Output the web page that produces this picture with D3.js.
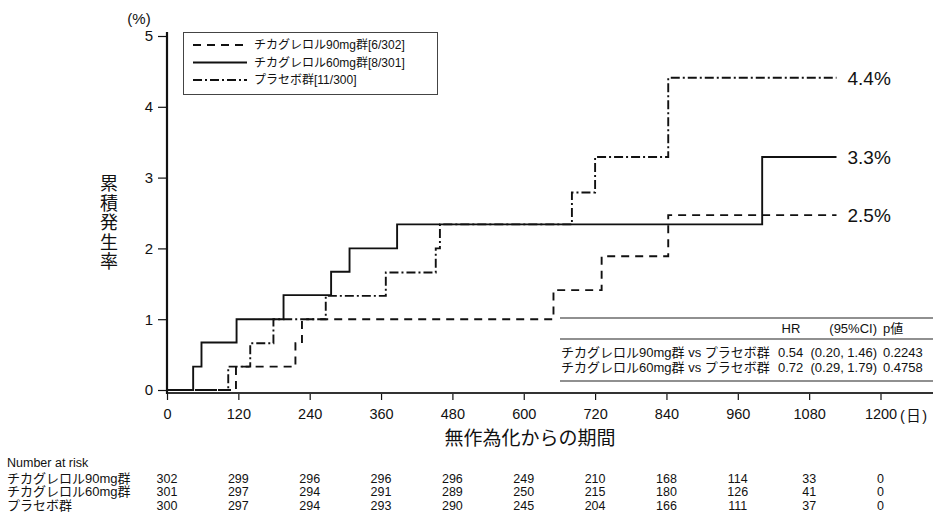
<!DOCTYPE html>
<html>
<head>
<meta charset="utf-8">
<script src="https://cdn.jsdelivr.net/npm/d3@7"></script>
<style>
  body { margin: 0; background: #fff; }
  text { font-family: "Liberation Sans", "Noto Sans CJK JP", sans-serif; fill: #111; }
</style>
</head>
<body>
<script>
// data
const groups = ["チカグレロル90mg群", "チカグレロル60mg群", "プラセボ群"];
const legendLabels = ["チカグレロル90mg群[6/302]", "チカグレロル60mg群[8/301]", "プラセボ群[11/300]"];

const days90 = [0, 116, 216, 227, 650, 731, 843, 1126];
const vals90 = [0, 0.33, 0.66, 1.0, 1.41, 1.89, 2.47, 2.47];

const days60 = [0, 44, 58, 117, 196, 276, 307, 387, 1001, 1126];
const vals60 = [0, 0.33, 0.67, 1.0, 1.34, 1.67, 2.0, 2.34, 3.29, 3.29];

const daysPbo = [0, 103, 140, 179, 267, 368, 452, 459, 681, 720, 843, 1126];
const valsPbo = [0, 0.33, 0.66, 1.0, 1.33, 1.66, 2.0, 2.34, 2.79, 3.29, 4.41, 4.41];

const endLabels = ["2.5%", "3.3%", "4.4%"];

const xTicks = [0, 120, 240, 360, 480, 600, 720, 840, 960, 1080, 1200];
const yTicks = [0, 1, 2, 3, 4, 5];

const risk90 = [302, 299, 296, 296, 296, 249, 210, 168, 114, 33, 0];
const risk60 = [301, 297, 294, 291, 289, 250, 215, 180, 126, 41, 0];
const riskPbo = [300, 297, 294, 293, 290, 245, 204, 166, 111, 37, 0];

const hrHeader = ["HR", "(95%CI)", "p値"];
const hrRows = ["チカグレロル90mg群 vs プラセボ群", "チカグレロル60mg群 vs プラセボ群"];
const hrValues = ["0.54", "0.72"];
const hrCI = ["(0.20, 1.46)", "(0.29, 1.79)"];
const hrP = ["0.2243", "0.4758"];

const W = 933, H = 519;
const svg = d3.select("body").append("svg")
    .attr("width", W)
    .attr("height", H);

const x = d3.scaleLinear().domain([0, 1200]).range([167, 880.5]);
const y = d3.scaleLinear().domain([0, 5]).range([390, 36]);

const dashes = ["8,6", null, "9,3,2,3"];
const series = [
    { days: days90, vals: vals90 },
    { days: days60, vals: vals60 },
    { days: daysPbo, vals: valsPbo }
];

// axes
const xAxisY = 393;
const xAxis = svg.append("g")
    .attr("transform", "translate(0," + xAxisY + ")")
    .call(d3.axisBottom(x).tickValues(xTicks).tickFormat(d3.format("d"))
        .tickSize(7).tickSizeOuter(0).tickPadding(8));
xAxis.select(".domain").remove();
xAxis.selectAll(".tick line").attr("stroke", "#111").attr("stroke-width", 1.2);
xAxis.selectAll(".tick text")
    .style("font-size", "14.5px")
    .attr("dy", "0.75em");
svg.append("line")
    .attr("x1", 166).attr("x2", W)
    .attr("y1", xAxisY).attr("y2", xAxisY)
    .attr("stroke", "#333").attr("stroke-width", 2.2);

const yAxis = svg.append("g")
    .attr("transform", "translate(167,0)")
    .call(d3.axisLeft(y).tickValues(yTicks).tickFormat(d3.format("d"))
        .tickSize(9).tickSizeOuter(0).tickPadding(5));
yAxis.select(".domain").remove();
yAxis.selectAll(".tick line").attr("stroke", "#111").attr("stroke-width", 1.2);
yAxis.selectAll(".tick text").style("font-size", "15px");
svg.append("line")
    .attr("x1", 167).attr("x2", 167)
    .attr("y1", 32).attr("y2", xAxisY + 1)
    .attr("stroke", "#111").attr("stroke-width", 2.2);

svg.append("text")
    .attr("x", 139).attr("y", 19)
    .attr("text-anchor", "middle")
    .attr("dy", "0.35em")
    .style("font-size", "15px")
    .text("(%)");

svg.append("text")
    .attr("x", 900).attr("y", 416)
    .attr("dy", "0.35em")
    .style("font-size", "14.5px")
    .style("letter-spacing", "1.5px")
    .text("(日)");

// y title, stacked characters
const yTitle = "累積発生率".split("");
svg.selectAll("text.ytitle")
    .data(yTitle)
    .enter().append("text")
    .attr("class", "ytitle")
    .attr("x", 109)
    .attr("y", (d, i) => 184 + i * 19.5)
    .attr("text-anchor", "middle")
    .attr("dy", "0.35em")
    .style("font-size", "18px")
    .text(d => d);

svg.append("text")
    .attr("x", 530).attr("y", 438)
    .attr("text-anchor", "middle")
    .attr("dy", "0.35em")
    .style("font-size", "19px")
    .text("無作為化からの期間");

// curves
const line = d3.line()
    .x(d => x(d[0]))
    .y(d => y(d[1]))
    .curve(d3.curveStepAfter);

series.forEach(function (s, i) {
    const pts = s.days.map((d, j) => [d, s.vals[j]]);
    svg.append("path")
        .attr("d", line(pts))
        .attr("fill", "none")
        .attr("stroke", "#111")
        .attr("stroke-width", 1.9)
        .attr("stroke-dasharray", dashes[i]);
    const last = pts[pts.length - 1];
    svg.append("text")
        .attr("x", x(last[0]) + 11)
        .attr("y", y(last[1]))
        .attr("dy", "0.36em")
        .style("font-size", "19px")
        .text(endLabels[i]);
});

// legend
const lg = svg.append("g");
lg.append("rect")
    .attr("x", 183.5).attr("y", 32.5)
    .attr("width", 254).attr("height", 62)
    .attr("fill", "#fff")
    .attr("stroke", "#444").attr("stroke-width", 1);
legendLabels.forEach(function (lab, i) {
    const ly = 45 + i * 17.5;
    lg.append("line")
        .attr("x1", 193).attr("x2", 247)
        .attr("y1", ly).attr("y2", ly)
        .attr("stroke", "#111").attr("stroke-width", 1.9)
        .attr("stroke-dasharray", dashes[i]);
    lg.append("text")
        .attr("x", 254).attr("y", ly)
        .attr("dy", "0.36em")
        .style("font-size", "12px")
        .text(lab);
});

// hazard ratio table
const ht = svg.append("g");
[318, 339, 381].forEach(function (ly) {
    ht.append("line")
        .attr("x1", 560).attr("x2", W)
        .attr("y1", ly).attr("y2", ly)
        .attr("stroke", "#222").attr("stroke-width", 1.2);
});
ht.append("text").attr("x", 791).attr("y", 328).attr("dy", "0.36em")
    .attr("text-anchor", "middle").style("font-size", "13px").text(hrHeader[0]);
ht.append("text").attr("x", 877).attr("y", 328).attr("dy", "0.36em")
    .attr("text-anchor", "end").style("font-size", "13px").text(hrHeader[1]);
ht.append("text").attr("x", 883).attr("y", 328).attr("dy", "0.36em")
    .style("font-size", "13px").text(hrHeader[2]);
hrRows.forEach(function (r, i) {
    const ry = 352 + i * 15.5;
    ht.append("text").attr("x", 561).attr("y", ry).attr("dy", "0.36em")
        .style("font-size", "13px").text(r);
    ht.append("text").attr("x", 778).attr("y", ry).attr("dy", "0.36em")
        .style("font-size", "13px").text(hrValues[i]);
    ht.append("text").attr("x", 877).attr("y", ry).attr("dy", "0.36em")
        .attr("text-anchor", "end").style("font-size", "13px").text(hrCI[i]);
    ht.append("text").attr("x", 883).attr("y", ry).attr("dy", "0.36em")
        .style("font-size", "13px").text(hrP[i]);
});

// number at risk
svg.append("text")
    .attr("x", 7).attr("y", 462)
    .attr("dy", "0.36em")
    .style("font-size", "12.5px")
    .text("Number at risk");
const riskRows = [risk90, risk60, riskPbo];
riskRows.forEach(function (row, i) {
    const ry = 478.5 + i * 13.3;
    svg.append("text")
        .attr("x", 7).attr("y", ry)
        .attr("dy", "0.36em")
        .style("font-size", "13px")
        .text(groups[i]);
    svg.selectAll(null)
        .data(row)
        .enter().append("text")
        .attr("x", (d, j) => x(xTicks[j]))
        .attr("y", ry)
        .attr("dy", "0.36em")
        .attr("text-anchor", "middle")
        .style("font-size", "12.5px")
        .text(d => d);
});
</script>
</body>
</html>
